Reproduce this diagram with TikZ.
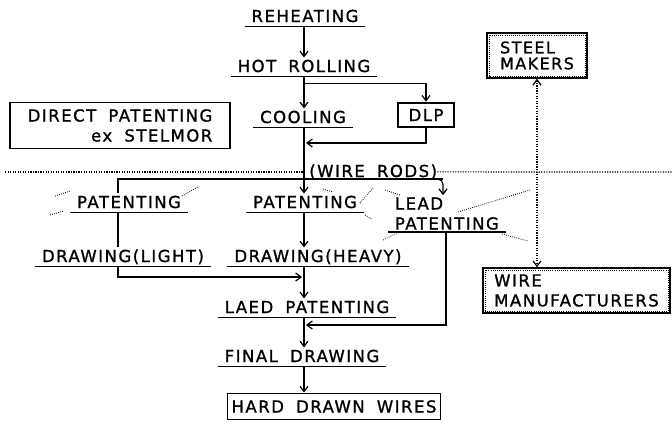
\documentclass[tikz,border=0pt]{standalone}
\usepackage{fontspec}
\newfontfamily\procfont{DejaVu Sans}[LetterSpace=9, WordSpace=1.8, FakeBold=1.2]
\usepackage{tikz}
\usetikzlibrary{arrows.meta, positioning}

\newcommand\stagefont{\procfont\fontsize{12.4pt}{15pt}\selectfont}

\tikzset{
  stagetext/.style={font=\stagefont, inner xsep=5pt, inner ysep=1.5pt},
  stage/.style={stagetext, text height=9.2pt, text depth=1.5pt, anchor=base},
  plainbox/.style={draw, line width=0.9pt, font=\stagefont, inner sep=3pt},
  dlpbox/.style={plainbox, line width=2pt, minimum width=42pt, minimum height=18pt},
  makerbox/.style={plainbox, line width=1.1pt, align=left, inner sep=4pt},
  flow/.style={->, line width=0.9pt},
  link/.style={line width=0.9pt},
  spot/.style={densely dotted, line width=0.9pt},
}

\begin{document}
\begin{tikzpicture}[x=0.75pt, y=-0.75pt, >={Straight Barb[length=4pt, width=6pt]}]
  \useasboundingbox (0,0) rectangle (672,426);

  % columns for the vertical lines
  \coordinate (col) at (304,0);
  \coordinate (lcol) at (118,0);
  \coordinate (rcol) at (443,0);
  \coordinate (leadcol) at (446,0);

  \node[stage] (reheat) at (305,22) {REHEATING};
  \node[stage] (hotroll) at (304,72) {HOT ROLLING};
  \node[stage] (cool) at (303,123) {COOLING};
  \node[dlpbox] (dlp) at (426,115) {DLP};
  \node[plainbox, minimum width=165pt, minimum height=35pt, align=right] (direct)
    at (120,125.5) {DIRECT PATENTING\\ex STELMOR};

  \node[stage, anchor=base west, inner xsep=0pt] (rods) at (309,177) {(WIRE RODS)};
  \node[stage] (pat1) at (129,208) {PATENTING};
  \node[stage] (pat2) at (305,208) {PATENTING};
  \node[stagetext, align=left, anchor=south west] (lead) at (388,232) {LEAD\\PATENTING};
  \node[stage] (light) at (123,262) {DRAWING(LIGHT)};
  \node[stage] (heavy) at (318,262) {DRAWING(HEAVY)};
  \node[stage] (laed) at (307,313) {LAED PATENTING};
  \node[stage] (final) at (302,362) {FINAL DRAWING};
  \node[plainbox, minimum width=129pt, minimum height=20pt] (hard) at (334,406.5) {HARD DRAWN WIRES};

  \node[makerbox, minimum width=75pt, minimum height=33.75pt,
        font=\procfont\fontsize{12pt}{12pt}\selectfont] (steel) at (537,55.5) {STEEL\\MAKERS};
  \node[makerbox, minimum width=140pt, minimum height=33.75pt] (wire) at (576.5,290.5) {WIRE\\MANUFACTURERS};
  \draw[spot, line width=0.6pt] ([shift={(2pt,-2pt)}]steel.north west) rectangle ([shift={(-2pt,2pt)}]steel.south east);
  \draw[spot, line width=0.6pt] ([shift={(2pt,-2pt)}]wire.north west) rectangle ([shift={(-2pt,2pt)}]wire.south east);

  % underlines
  \foreach \n in {reheat,hotroll,cool,pat1,pat2,lead,light,heavy,laed,final}
    \draw[link] (\n.south west) -- (\n.south east);

  % main line
  \coordinate (join) at (306,143);
  \coordinate (rodsend) at (443,179);
  \coordinate (join2) at (302,277);
  \coordinate (join3) at (306,325);
  \draw[flow] (reheat.south -| col) -- (hotroll.north -| col);
  \draw[flow] (hotroll.south -| col) -- (cool.north -| col);
  \draw[flow] (hotroll.south -| col) ++(0,7) -| (dlp.north);
  \draw[flow] (dlp.south) |- (join);
  \draw[flow] (cool.south -| col) -- (pat2.north -| col);
  \draw[link] (pat1.north -| lcol) |- (rodsend);
  \draw[flow, rounded corners=4pt] ([xshift=-8pt]rodsend) -- (rodsend) -- (rodsend |- lead.north);
  \draw[link] (pat1.south -| lcol) -- (light.north -| lcol);
  \draw[flow] (light.south -| lcol) |- (join2);
  \draw[flow] (pat2.south -| col) -- (heavy.north -| col);
  \draw[flow] (heavy.south -| col) -- (laed.north -| col);
  \draw[flow] (lead.south -| leadcol) |- (join3);
  \draw[flow] (laed.south -| col) -- (final.north -| col);
  \draw[flow] (final.south -| col) -- (hard.north -| col);

  % dotted rule and makers link
  \coordinate (sepL) at (5,172);
  \coordinate (sepR) at (672,172);
  \draw[spot] (sepL) -- (sepL -| col);
  \draw[spot] (rods.east) -- (sepR);
  \draw[spot, <->] (steel.south) -- (wire.north -| steel.south);

  % dotted marks round the patenting steps
  \draw[spot, line width=0.6pt] (55,196) -- (70,191);
  \draw[spot, line width=0.6pt] (182,196) -- (198,187);
  \draw[spot, line width=0.6pt] (50,215) -- (64,211);
  \draw[spot, line width=0.6pt] (323,189) -- (333,192);
  \draw[spot, line width=0.6pt] (360,203) -- (373,188);
  \draw[spot, line width=0.6pt] (365,215) -- (372,219);
  \draw[spot, line width=0.6pt] (385,190) -- (400,195);
  \draw[spot, line width=0.6pt] (458,212) -- (530,190);
  \draw[spot, line width=0.6pt] (383,240) -- (397,233);
  \draw[spot, line width=0.6pt] (502,234) -- (528,241);
\end{tikzpicture}
\end{document}
